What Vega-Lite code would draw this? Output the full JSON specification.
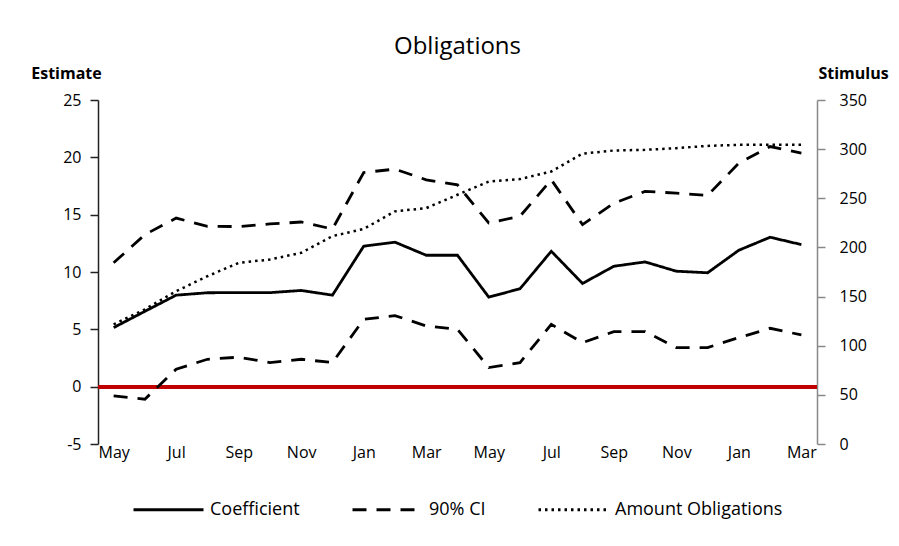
{
  "$schema": "https://vega.github.io/schema/vega-lite/v6.json",
  "width": 719,
  "height": 344,
  "autosize": "none",
  "padding": {"left": 98, "top": 100, "right": 82, "bottom": 102},
  "background": "white",
  "title": {"text": "Obligations", "offset": 6, "fontSize": 24, "font": "Open Sans", "fontWeight": "normal", "color": "black"},
  "data": {"values": [
    {"date": "2009-05", "coef": 5.15, "lo": -0.8, "hi": 10.8, "amt": 121.7},
    {"date": "2009-06", "coef": 6.57, "lo": -1.09, "hi": 13.26, "amt": 137},
    {"date": "2009-07", "coef": 7.98, "lo": 1.52, "hi": 14.7, "amt": 155.5},
    {"date": "2009-08", "coef": 8.19, "lo": 2.39, "hi": 13.99, "amt": 170.7},
    {"date": "2009-09", "coef": 8.2, "lo": 2.57, "hi": 13.96, "amt": 184.3},
    {"date": "2009-10", "coef": 8.2, "lo": 2.1, "hi": 14.19, "amt": 187.7},
    {"date": "2009-11", "coef": 8.39, "lo": 2.39, "hi": 14.36, "amt": 194.5},
    {"date": "2009-12", "coef": 7.98, "lo": 2.1, "hi": 13.75, "amt": 211.5},
    {"date": "2010-01", "coef": 12.25, "lo": 5.87, "hi": 18.68, "amt": 218.8},
    {"date": "2010-02", "coef": 12.6, "lo": 6.2, "hi": 18.97, "amt": 236.7},
    {"date": "2010-03", "coef": 11.46, "lo": 5.29, "hi": 18.04, "amt": 240},
    {"date": "2010-04", "coef": 11.46, "lo": 5.0, "hi": 17.6, "amt": 253.6},
    {"date": "2010-05", "coef": 7.81, "lo": 1.67, "hi": 14.28, "amt": 267},
    {"date": "2010-06", "coef": 8.54, "lo": 2.1, "hi": 14.86, "amt": 269.5},
    {"date": "2010-07", "coef": 11.81, "lo": 5.43, "hi": 18.04, "amt": 277.3},
    {"date": "2010-08", "coef": 9.0, "lo": 3.84, "hi": 14.13, "amt": 295.5},
    {"date": "2010-09", "coef": 10.5, "lo": 4.8, "hi": 16.0, "amt": 298.6},
    {"date": "2010-10", "coef": 10.88, "lo": 4.8, "hi": 17.03, "amt": 299.3},
    {"date": "2010-11", "coef": 10.07, "lo": 3.41, "hi": 16.88, "amt": 301},
    {"date": "2010-12", "coef": 9.93, "lo": 3.41, "hi": 16.68, "amt": 303.3},
    {"date": "2011-01", "coef": 11.9, "lo": 4.28, "hi": 19.49, "amt": 304.4},
    {"date": "2011-02", "coef": 13.03, "lo": 5.09, "hi": 20.94, "amt": 304.4},
    {"date": "2011-03", "coef": 12.39, "lo": 4.51, "hi": 20.36, "amt": 304.4}
  ]},
  "layer": [
    {
      "layer": [
        {
          "mark": {"type": "rule", "color": "#C00000", "strokeWidth": 3},
          "encoding": {"y": {"datum": 0, "type": "quantitative"}}
        },
        {
          "mark": {"type": "line", "color": "black", "strokeWidth": 2.8},
          "encoding": {
            "x": {"field": "date", "type": "ordinal", "scale": {"type": "point", "padding": 0.5}, "axis": {"orient": "bottom", "title": null, "labelAngle": 0, "ticks": false, "domain": false, "labelPadding": 0, "labelFontSize": 16, "labelFont": "Open Sans", "labelColor": "black", "labelExpr": "month(toDate(datum.value + '-15')) % 2 == 0 ? timeFormat(toDate(datum.value + '-15'), '%b') : ''"}},
            "y": {"field": "coef", "type": "quantitative", "title": "Estimate", "scale": {"domain": [-5, 25], "nice": false, "zero": false},
              "axis": {"orient": "left", "values": [-5, 0, 5, 10, 15, 20, 25], "labelExpr": "toString(datum.value)", "grid": false, "domainColor": "#222", "domainWidth": 1.5, "tickColor": "#222", "tickWidth": 1.5, "tickSize": 8, "labelPadding": 9, "labelFontSize": 16, "labelFont": "Open Sans", "labelColor": "black", "titleAngle": 0, "titleAlign": "center", "titleBaseline": "bottom", "titleX": -32, "titleY": -19, "titleFontSize": 16, "titleFont": "Open Sans", "titleFontWeight": "bold", "titleColor": "black"}},
            "strokeDash": {"datum": "Coefficient", "type": "nominal", "scale": {"domain": ["Coefficient", "90% CI", "Amount Obligations"], "range": [[1, 0], [14, 10], [2.5, 4]]}, "legend": {"orient": "bottom", "direction": "horizontal", "title": null, "symbolType": "stroke", "symbolSize": 4900, "symbolStrokeWidth": 3, "symbolStrokeColor": "black", "labelFontSize": 18, "labelFont": "Open Sans", "labelColor": "black", "labelLimit": 400, "columnPadding": 46, "labelOffset": 5, "offset": 13}}
          }
        },
        {
          "mark": {"type": "line", "color": "black", "strokeWidth": 2.8},
          "encoding": {
            "x": {"field": "date", "type": "ordinal"},
            "y": {"field": "hi", "type": "quantitative", "title": "Estimate"},
            "strokeDash": {"datum": "90% CI", "type": "nominal"}
          }
        },
        {
          "mark": {"type": "line", "color": "black", "strokeWidth": 2.8},
          "encoding": {
            "x": {"field": "date", "type": "ordinal"},
            "y": {"field": "lo", "type": "quantitative", "title": "Estimate"},
            "strokeDash": {"datum": "90% CI", "type": "nominal"}
          }
        }
      ]
    },
    {
      "mark": {"type": "line", "color": "black", "strokeWidth": 2.5},
      "encoding": {
        "x": {"field": "date", "type": "ordinal"},
        "y": {"field": "amt", "type": "quantitative", "title": "Stimulus", "scale": {"domain": [0, 350], "nice": false},
          "axis": {"orient": "right", "values": [0, 50, 100, 150, 200, 250, 300, 350], "grid": false, "domainColor": "#888", "domainWidth": 1.5, "tickColor": "#888", "tickWidth": 1.5, "tickSize": 8, "labelPadding": 14, "labelFontSize": 16, "labelFont": "Open Sans", "labelColor": "black", "titleAngle": 0, "titleAlign": "center", "titleBaseline": "bottom", "titleX": 36, "titleY": -19, "titleFontSize": 16, "titleFont": "Open Sans", "titleFontWeight": "bold", "titleColor": "black"}},
        "strokeDash": {"datum": "Amount Obligations", "type": "nominal"}
      }
    }
  ],
  "resolve": {"scale": {"y": "independent"}},
  "config": {
    "view": {"stroke": null},
    "legend": {"layout": {"bottom": {"anchor": "middle"}}}
  }
}
